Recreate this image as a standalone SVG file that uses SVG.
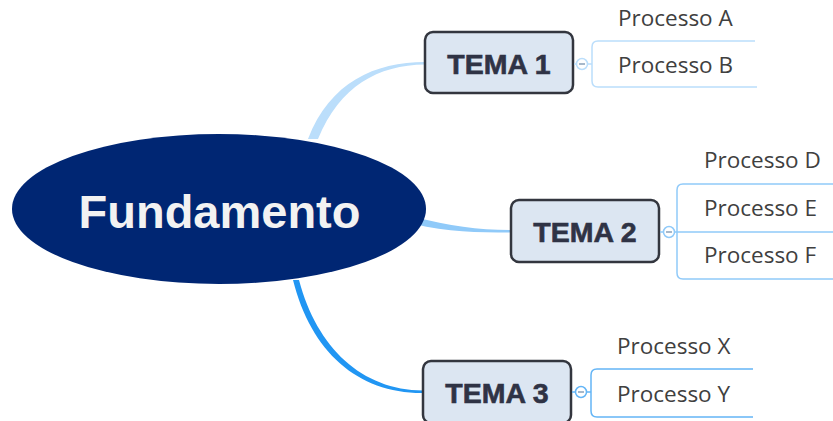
<svg xmlns="http://www.w3.org/2000/svg" width="833" height="421" viewBox="0 0 833 421">
<style>
.topic rect{fill:#dce6f2;stroke:#33363f;stroke-width:2.5}
.topic text{font-family:"Liberation Sans",Arial,sans-serif;font-weight:bold;font-size:28.5px;fill:#2f3345;stroke:#2f3345;stroke-width:0.6;text-anchor:middle}
.sub{font-family:"Open Sans","Noto Sans",sans-serif;font-size:22.5px;fill:#404040}
.knob{fill:#fff;stroke-width:1.5}
.minus{stroke:#8aa0b8;stroke-width:1.5}
.br{fill:none;stroke-width:1.5}
</style>
<g id="connectors">
<path d="M308,139 C330,82 375,62 425,62 L425,64.5 C378,65 340,86 318,139 Z" fill="#bbdefb"/>
<path d="M414,217 C450,226 478,230 511,230 L511,232.5 C478,232.5 448,232 414,224 Z" fill="#90caf9"/>
<path d="M293,280 C311,352 358,393.5 423,393 L423,390.5 C362,390 317,348 299,280 Z" fill="#2196f3"/>
</g>
<g id="root">
<ellipse cx="219" cy="209" rx="207" ry="75" fill="#002673"/>
<text x="219.5" y="228" font-family="Liberation Sans,Arial,sans-serif" font-weight="bold" font-size="47" fill="#f2f2f2" text-anchor="middle">Fundamento</text>
</g>
<g id="tema1" class="topic">
<rect x="425" y="32" width="148" height="61" rx="8"/>
<text x="499" y="74">TEMA 1</text>
</g>
<g id="tema2" class="topic">
<rect x="511" y="200" width="148" height="62" rx="8"/>
<text x="585" y="242">TEMA 2</text>
</g>
<g id="tema3" class="topic">
<rect x="423" y="361" width="148" height="62" rx="8"/>
<text x="497" y="403">TEMA 3</text>
</g>
<g id="tema1-children">
<path class="br" stroke="#bbdefb" d="M755,41 H598 Q592,41 592,47 V81 Q592,87 598,87 H757 M574,64 H592"/>
<circle class="knob" stroke="#bbdefb" cx="582" cy="64" r="5.5"/>
<path class="minus" d="M579,64 H585"/>
<text class="sub" x="618" y="26">Processo A</text>
<text class="sub" x="618" y="73">Processo B</text>
</g>
<g id="tema2-children">
<path class="br" stroke="#90caf9" d="M833,184 H683 Q677,184 677,190 V273 Q677,279 683,279 H833 M660,232 H833"/>
<circle class="knob" stroke="#90caf9" cx="669" cy="232" r="5.5"/>
<path class="minus" d="M666,232 H672"/>
<text class="sub" x="704" y="168">Processo D</text>
<text class="sub" x="704" y="216">Processo E</text>
<text class="sub" x="704" y="263">Processo F</text>
</g>
<g id="tema3-children">
<path class="br" stroke="#64b5f6" d="M753,369 H597 Q591,369 591,375 V411 Q591,417 597,417 H753 M572,392 H591"/>
<circle class="knob" stroke="#64b5f6" cx="581" cy="392" r="5.5"/>
<path class="minus" d="M578,392 H584"/>
<text class="sub" x="617" y="354">Processo X</text>
<text class="sub" x="617" y="402">Processo Y</text>
</g>
</svg>
